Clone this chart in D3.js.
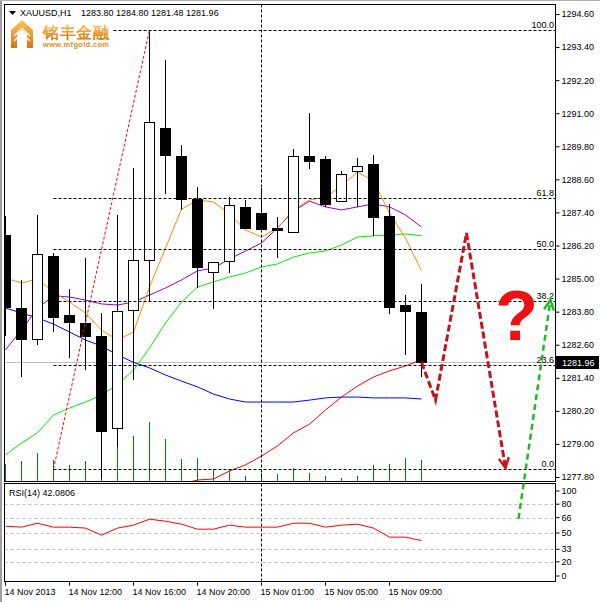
<!DOCTYPE html>
<html>
<head>
<meta charset="utf-8">
<script src="https://cdn.jsdelivr.net/npm/d3@7/dist/d3.min.js"></script>
<style>
html,body{margin:0;padding:0;background:#fff;}
svg{display:block;}
text{font-family:"Liberation Sans",Arial,sans-serif;}
</style>
</head>
<body>
<svg id="chart" width="600" height="602"></svg>
<script>
// ---------------- DATA ----------------
const symbol = "XAUUSD,H1";
const times = [
  "2013.11.14 08:00","2013.11.14 09:00","2013.11.14 10:00","2013.11.14 11:00",
  "2013.11.14 12:00","2013.11.14 13:00","2013.11.14 14:00","2013.11.14 15:00",
  "2013.11.14 16:00","2013.11.14 17:00","2013.11.14 18:00","2013.11.14 19:00",
  "2013.11.14 20:00","2013.11.14 21:00","2013.11.14 22:00","2013.11.14 23:00",
  "2013.11.15 01:00","2013.11.15 02:00","2013.11.15 03:00","2013.11.15 04:00",
  "2013.11.15 05:00","2013.11.15 06:00","2013.11.15 07:00","2013.11.15 08:00",
  "2013.11.15 09:00","2013.11.15 10:00","2013.11.15 11:00"];
const open  = [1286.58,1283.93,1282.81,1285.82,1283.68,1283.39,1282.92,1279.58,1283.86,1285.67,1290.46,1289.45,1287.89,1285.24,1285.64,1287.60,1287.38,1286.84,1286.69,1289.45,1289.34,1287.81,1288.90,1289.16,1287.27,1284.04,1283.80];
const high  = [1287.27,1284.95,1287.31,1285.93,1284.62,1285.75,1283.75,1287.31,1289.01,1294.02,1292.93,1289.85,1288.32,1285.60,1287.96,1287.85,1288.29,1287.23,1289.70,1291.01,1289.45,1288.90,1289.38,1289.48,1287.71,1284.40,1284.80];
const low   = [1282.95,1281.47,1282.63,1283.10,1282.15,1281.72,1277.76,1278.93,1281.36,1284.19,1288.11,1287.52,1284.69,1283.93,1285.24,1286.84,1286.80,1285.78,1286.69,1289.01,1287.63,1287.81,1287.63,1286.58,1283.75,1282.26,1281.48];
const close = [1283.97,1282.81,1285.89,1283.61,1283.42,1282.92,1279.47,1283.82,1285.67,1290.68,1289.48,1287.89,1285.42,1285.60,1287.67,1286.84,1286.80,1286.76,1289.45,1289.27,1287.71,1288.79,1289.08,1287.23,1283.97,1283.82,1281.96];
const volume = [1020,1200,1680,1260,960,1200,2460,2100,2700,3540,2520,1320,1380,720,720,300,480,420,780,480,300,180,300,960,1020,1380,1260];
const maOrange = [1285.02,1284.84,1284.98,1284.51,1284.15,1283.75,1283.13,1282.77,1283.06,1284.69,1286.11,1287.52,1287.85,1287.78,1287.34,1286.76,1286.51,1286.84,1287.49,1287.85,1287.96,1288.36,1288.87,1288.54,1287.38,1286.47,1285.28];
const maPurple = [1282.41,1283.13,1283.93,1284.37,1284.33,1284.22,1284.08,1284.04,1284.15,1284.40,1284.66,1284.95,1285.28,1285.38,1285.71,1286.00,1286.29,1286.84,1287.45,1287.81,1287.60,1287.49,1287.60,1287.71,1287.60,1287.31,1286.87];
const maGreen  = [1278.60,1279.03,1279.40,1280.05,1280.30,1280.52,1280.78,1281.14,1281.68,1282.48,1283.39,1284.15,1284.69,1284.88,1285.06,1285.20,1285.42,1285.53,1285.78,1285.93,1286.00,1286.22,1286.51,1286.55,1286.58,1286.62,1286.55];
const maBlue   = [1283.93,1283.75,1283.57,1283.35,1283.06,1282.77,1282.55,1282.23,1281.96,1281.76,1281.50,1281.28,1281.07,1280.81,1280.63,1280.52,1280.52,1280.52,1280.52,1280.59,1280.67,1280.70,1280.70,1280.67,1280.67,1280.67,1280.63];
const maRed    = [null,null,null,null,null,null,null,null,null,null,null,1277.55,1277.69,1277.73,1278.02,1278.24,1278.56,1278.93,1279.40,1279.72,1280.23,1280.70,1281.10,1281.43,1281.65,1281.83,1282.05];
const rsi = [57.1,56.1,60.2,56.1,56.1,55.1,47.8,55.1,58.2,64.4,62.3,59.2,54.0,54.0,58.2,56.1,56.1,56.1,60.2,60.2,56.1,58.2,59.2,55.1,45.7,45.7,42.08];
const rsiLast = "42.0806";
const priceTicks = [1294.60,1293.40,1292.20,1291.00,1289.80,1288.60,1287.40,1286.20,1285.00,1283.80,1282.60,1281.40,1280.20,1279.00,1277.80];
const rsiTicks = [100,80,66,50,33,20,0];
const rsiLevels = [80,66,50,33,20];
const xTickIndex = [0,4,8,12,16,20,24];
const xTickLabels = ["14 Nov 2013","14 Nov 12:00","14 Nov 16:00","14 Nov 20:00","15 Nov 01:00","15 Nov 05:00","15 Nov 09:00"];
const separatorIndex = 16;
const fibLevels = [0,23.6,38.2,50,61.8,100];
const fibLabels = ["0.0","23.6","38.2","50.0","61.8","100.0"];
const fibStart = [3,1278.09], fibEnd = [9,1294.02];
const redForecast = [[26,1281.96],[26.875,1280.59],[28.81,1286.65],[31.25,1278.13]];
const greenForecast = [[32.06,1276.28],[34.06,1284.22]];
const questionAt = [31.95,1282.77];

// ---------------- LAYOUT ----------------
const svg = d3.select("#chart");
const L = 4.5, R = 555.5, T = 4.5, B = 481.5;   // main panel frame
const RT = 483.5, RB = 581.5;                     // rsi panel frame

const x = d3.scaleLinear().domain([0,26]).range([5,421]);
const px = i => Math.round(x(i)) + 0.5;
const y = d3.scaleLinear().domain([1277.8,1294.6]).range([477,14]);
const yr = d3.scaleLinear().domain([0,100]).range([581,485]);
const vH = d3.scaleLinear().domain([0,6000]).range([0,100]);

svg.append("rect").attr("width",600).attr("height",602).attr("fill","#fff");
svg.append("rect").attr("x",0).attr("y",0).attr("width",2).attr("height",602).attr("fill","#a0a0a0");
svg.append("rect").attr("x",0).attr("y",0).attr("width",600).attr("height",1).attr("fill","#b0b0b0");

const defs = svg.append("defs");
defs.append("clipPath").attr("id","clipMain").append("rect")
  .attr("x",L+0.5).attr("y",T+0.5).attr("width",R-L-1).attr("height",B-T-1);
defs.append("clipPath").attr("id","clipRsi").append("rect")
  .attr("x",L+0.5).attr("y",RT+0.5).attr("width",R-L-1).attr("height",RB-RT-1);

const gMain = svg.append("g").attr("clip-path","url(#clipMain)");

// bid line
gMain.append("line").attr("x1",L).attr("x2",R)
  .attr("y1",Math.round(y(close[26]))+0.5).attr("y2",Math.round(y(close[26]))+0.5)
  .attr("stroke","#c0c0c0");

// volumes
gMain.append("g").selectAll("line").data(volume).join("line")
  .attr("x1",(d,i)=>px(i)).attr("x2",(d,i)=>px(i))
  .attr("y1",B-0.5).attr("y2",d=>B-0.5-vH(d))
  .attr("stroke","#008000").attr("stroke-width",1);

// moving averages
const lineGen = d3.line().defined(d=>d!=null).x((d,i)=>x(i)+0.5).y(d=>y(d));
[[maRed,"#ff0000"],[maBlue,"#0000ff"],[maGreen,"#00ee00"],[maPurple,"#9400d3"],[maOrange,"#ff8c00"]]
 .forEach(([arr,col])=>{
   gMain.append("path").attr("d",lineGen(arr)).attr("fill","none")
     .attr("stroke",col).attr("stroke-width",1);
 });

// candles
const bars = times.map((t,i)=>({i,o:open[i],h:high[i],l:low[i],c:close[i]}));
const cg = gMain.append("g").selectAll("g").data(bars).join("g");
cg.append("line")
  .attr("x1",d=>px(d.i)).attr("x2",d=>px(d.i))
  .attr("y1",d=>Math.round(y(d.h))).attr("y2",d=>Math.round(y(d.l))+1)
  .attr("stroke","#000");
cg.append("rect")
  .attr("x",d=>px(d.i)-5).attr("width",10)
  .attr("y",d=>Math.round(y(Math.max(d.o,d.c)))+0.5)
  .attr("height",d=>Math.max(1,Math.round(y(Math.min(d.o,d.c)))-Math.round(y(Math.max(d.o,d.c)))))
  .attr("fill",d=>d.c>=d.o?"#fff":"#000").attr("stroke","#000");

// fibonacci
const fibP = lv => fibStart[1] + (fibEnd[1]-fibStart[1])*lv/100;
gMain.append("g").selectAll("line").data(fibLevels).join("line")
  .attr("x1",px(fibStart[0])).attr("x2",R)
  .attr("y1",d=>Math.round(y(fibP(d)))+0.5).attr("y2",d=>Math.round(y(fibP(d)))+0.5)
  .attr("stroke","#000").attr("stroke-dasharray","3,2");
gMain.append("line")
  .attr("x1",px(fibStart[0])).attr("y1",y(fibStart[1]))
  .attr("x2",px(fibEnd[0])).attr("y2",y(fibEnd[1]))
  .attr("stroke","#ff0000").attr("stroke-dasharray","3,2");
svg.append("g").selectAll("text").data(fibLevels).join("text")
  .attr("x",554).attr("y",d=>Math.round(y(fibP(d)))-2)
  .attr("text-anchor","end").attr("font-size",9).attr("fill","#000")
  .text((d,i)=>fibLabels[i]);

// separator
svg.append("line").attr("x1",px(separatorIndex)).attr("x2",px(separatorIndex))
  .attr("y1",T).attr("y2",B).attr("stroke","#000").attr("stroke-dasharray","3,2");
svg.append("line").attr("x1",px(separatorIndex)).attr("x2",px(separatorIndex))
  .attr("y1",RT).attr("y2",RB).attr("stroke","#000").attr("stroke-dasharray","3,2");

// RSI panel
const gR = svg.append("g").attr("clip-path","url(#clipRsi)");
gR.selectAll("line").data(rsiLevels).join("line")
  .attr("x1",L).attr("x2",R)
  .attr("y1",d=>Math.round(yr(d))+0.5).attr("y2",d=>Math.round(yr(d))+0.5)
  .attr("stroke","#c0c0c0").attr("stroke-dasharray","3,3");
gR.append("path").attr("d",d3.line().x((d,i)=>x(i)+0.5).y(d=>yr(d))(rsi))
  .attr("fill","none").attr("stroke","#ff0000");
svg.append("text").attr("x",9).attr("y",496).attr("font-size",9).text("RSI(14) "+rsiLast);

// frames
svg.append("rect").attr("x",L).attr("y",T).attr("width",R-L).attr("height",B-T)
  .attr("fill","none").attr("stroke","#000");
svg.append("rect").attr("x",L).attr("y",RT).attr("width",R-L).attr("height",RB-RT)
  .attr("fill","none").attr("stroke","#000");

// price axis
const ax = svg.append("g").attr("transform",`translate(${R},0)`)
  .call(d3.axisRight(y).tickValues(priceTicks).tickFormat(d3.format(".2f")).tickSize(4).tickPadding(2));
ax.select(".domain").remove();
ax.selectAll("text").attr("font-size",9).attr("font-family","Liberation Sans, Arial, sans-serif").attr("fill","#000");
ax.selectAll("line").attr("stroke","#000");

// current price marker
const cy = y(close[26]);
svg.append("rect").attr("x",556).attr("y",Math.round(cy)-6).attr("width",43).attr("height",13).attr("fill","#000");
svg.append("text").attr("x",562).attr("y",Math.round(cy)+4).attr("font-size",9).attr("fill","#fff")
  .text(d3.format(".2f")(close[26]));

// rsi axis
const rax = svg.append("g").attr("transform",`translate(${R},0)`)
  .call(d3.axisRight(yr).tickValues(rsiTicks).tickFormat(d3.format("d")).tickSize(4).tickPadding(2));
rax.select(".domain").remove();
rax.selectAll("text").attr("font-size",9).attr("font-family","Liberation Sans, Arial, sans-serif").attr("fill","#000");
rax.selectAll(".tick").attr("transform",d=>`translate(0,${Math.max(491,Math.min(576,yr(d)))})`);

// time axis
const tg = svg.append("g").selectAll("g").data(xTickIndex).join("g");
tg.append("line").attr("x1",d=>px(d)).attr("x2",d=>px(d)).attr("y1",RB).attr("y2",RB+4).attr("stroke","#000");
tg.append("text").attr("x",d=>px(d)-1).attr("y",595).attr("font-size",9)
  .text((d,i)=>xTickLabels[i]);

// header
svg.append("path").attr("d","M9,11 L16,11 L12.5,15 Z").attr("fill","#000");
svg.append("text").attr("x",20).attr("y",16).attr("font-size",9).text(symbol);
svg.append("text").attr("x",81).attr("y",16).attr("font-size",9)
  .text([open[26],high[26],low[26],close[26]].map(d3.format(".2f")).join(" "));

// logo
const lg = defs.append("linearGradient").attr("id","gold").attr("x1",0).attr("y1",0).attr("x2",0).attr("y2",1);
lg.append("stop").attr("offset","0%").attr("stop-color","#fbc75a");
lg.append("stop").attr("offset","100%").attr("stop-color","#d8730c");
svg.append("rect").attr("x",5).attr("y",18).attr("width",108).attr("height",32).attr("fill","#fff");
svg.append("path").attr("d","M11,30 L22,20 L33,30 L33,48 L27,48 L27,34 L22,29.5 L17,34 L17,48 L11,48 Z")
  .attr("fill","url(#gold)");
svg.append("path").attr("d","M14,36 L22,28 L30,36 M14,41 L22,33 L30,41")
  .attr("fill","none").attr("stroke","#fff").attr("stroke-width",1.2);
svg.append("text").attr("x",43).attr("y",38).attr("font-size",16).attr("font-weight","bold")
  .attr("font-family","Noto Sans CJK SC, sans-serif").attr("fill","url(#gold)")
  .attr("textLength",66).text("铭丰金融");
svg.append("text").attr("x",43).attr("y",47).attr("font-size",7.5).attr("font-weight","bold")
  .attr("fill","#e08a1e").attr("textLength",66).text("www.mfgold.com");

// annotations
const ax2 = d3.scaleLinear().domain([0,26]).range([5.5,421.5]);
const annLine = d3.line().x(d=>ax2(d[0])).y(d=>y(d[1]));
function addMarker(id,col){
  defs.append("marker").attr("id",id).attr("markerUnits","userSpaceOnUse")
    .attr("viewBox","-12 -8 14 16").attr("markerWidth",14).attr("markerHeight",16)
    .attr("refX",0).attr("refY",0).attr("orient","auto")
    .append("path").attr("d","M-10,-5 L0,0 L-10,5").attr("fill","none")
    .attr("stroke",col).attr("stroke-width",2.5);
}
addMarker("arrR","#c3141c"); addMarker("arrG","#22b822");
svg.append("path").attr("d",annLine(redForecast)).attr("fill","none")
  .attr("stroke","#c3141c").attr("stroke-width",3).attr("stroke-dasharray","7,3")
  .attr("marker-end","url(#arrR)");
svg.append("path").attr("d",annLine(greenForecast)).attr("fill","none")
  .attr("stroke","#22b822").attr("stroke-width",2.5).attr("stroke-dasharray","6,4")
  .attr("marker-end","url(#arrG)");
svg.append("text").attr("x",ax2(questionAt[0])).attr("y",y(questionAt[1]))
  .attr("text-anchor","middle").attr("font-size",70).attr("font-weight","bold")
  .attr("font-family","Liberation Serif, serif").attr("fill","#ee1111").text("?");
</script>
</body>
</html>
